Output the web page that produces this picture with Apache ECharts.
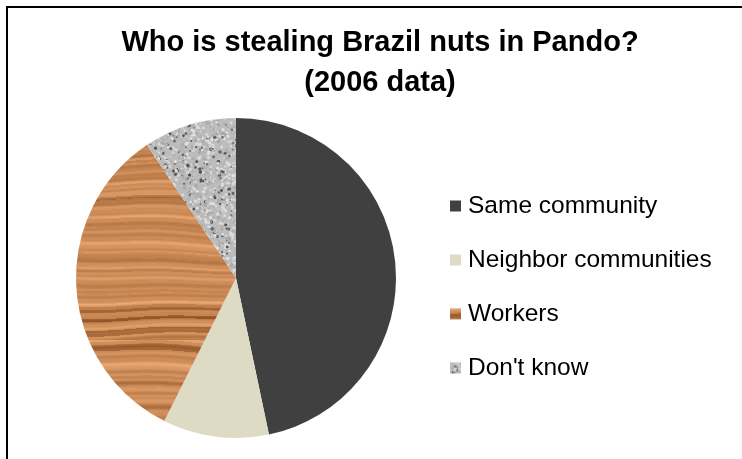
<!DOCTYPE html>
<html>
<head>
<meta charset="utf-8">
<script src="https://cdn.jsdelivr.net/npm/echarts@6/dist/echarts.min.js"></script>
<style>
html,body{margin:0;padding:0;background:#fff;}
#chart{width:742px;height:459px;}
</style>
</head>
<body>
<div id="chart"></div>
<script>
// ---- data ----
const titleLines = ["Who is stealing Brazil nuts in Pando?", "(2006 data)"];
const categories = ["Same community", "Neighbor communities", "Workers", "Don't know"];
const shares = [46.7, 10.7, 33.2, 9.4];

// deterministic hash for textures (style only)
function hash(n){ const s = Math.sin(n * 127.1 + 311.7) * 43758.5453; return s - Math.floor(s); }

function woodTexture(){
  const c = document.createElement('canvas');
  c.width = 320; c.height = 340;
  const ctx = c.getContext('2d');
  for (let y = 0; y < c.height; y++) {
    for (let x = 0; x < c.width; x += 4) {
      const wave = 2.5 * Math.sin(x * 0.015 + y * 0.03) + 1.5 * Math.sin(x * 0.041 + 1.3);
      const yy = y + wave;
      let t = 0.62 + 0.14 * Math.sin(yy * 0.55) + 0.1 * Math.sin(yy * 0.23 + 1.7) + 0.06 * Math.sin(yy * 1.3 + 0.4);
      const row = Math.floor(yy / 3);
      t += 0.2 * (hash(row) - 0.5);
      if (hash(row * 3.7 + 11) > 0.88) t -= 0.35;
      t = Math.max(0, Math.min(1, t));
      const r = Math.round(145 + t * 92);
      const g = Math.round(85 + t * 85);
      const b = Math.round(40 + t * 75);
      ctx.fillStyle = 'rgb(' + r + ',' + g + ',' + b + ')';
      ctx.fillRect(x, y, 4, 1);
    }
  }
  return c;
}

function graniteTexture(){
  const c = document.createElement('canvas');
  c.width = 160; c.height = 160;
  const ctx = c.getContext('2d');
  ctx.fillStyle = '#bcbcbc';
  ctx.fillRect(0, 0, c.width, c.height);
  for (let i = 0; i < 3200; i++) {
    const x = hash(i * 1.31) * c.width;
    const y = hash(i * 2.77 + 5) * c.height;
    const v = hash(i * 4.13 + 9);
    let g;
    if (v < 0.15) g = Math.round(70 + v * 300);
    else if (v < 0.6) g = Math.round(160 + v * 40);
    else g = Math.round(195 + v * 30);
    ctx.fillStyle = 'rgb(' + g + ',' + g + ',' + g + ')';
    const s = 0.6 + hash(i * 7.9 + 3) * 1.2;
    ctx.beginPath();
    ctx.arc(x, y, s, 0, Math.PI * 2);
    ctx.fill();
  }
  return c;
}

const fills = [
  '#404040',
  '#dedbc5',
  { image: woodTexture(), repeat: 'repeat' },
  { image: graniteTexture(), repeat: 'repeat' }
];

const chart = echarts.init(document.getElementById('chart'), null, { renderer: 'canvas' });
chart.setOption({
  animation: false,
  backgroundColor: '#ffffff',
  title: {
    text: titleLines.join('\n'),
    left: 380,
    top: 23,
    padding: 0,
    textAlign: 'center',
    textStyle: {
      fontFamily: 'Liberation Sans',
      fontWeight: 'bold',
      fontSize: 29,
      lineHeight: 40,
      color: '#000'
    }
  },
  legend: {
    orient: 'vertical',
    left: 450,
    top: 193,
    padding: 0,
    itemWidth: 11,
    itemHeight: 11,
    itemGap: 28,
    icon: 'rect',
    data: categories,
    textStyle: {
      fontFamily: 'Liberation Sans',
      fontSize: 24.5,
      lineHeight: 26,
      color: '#000',
      padding: [0, 0, 0, 2]
    }
  },
  graphic: [
    { type: 'line', shape: { x1: 6, y1: 7, x2: 742, y2: 7 }, style: { stroke: '#000', lineWidth: 2 } },
    { type: 'line', shape: { x1: 7, y1: 6, x2: 7, y2: 459 }, style: { stroke: '#000', lineWidth: 2 } }
  ],
  series: [{
    type: 'pie',
    center: [236, 278],
    radius: [0, 160],
    startAngle: 90,
    clockwise: true,
    label: { show: false },
    labelLine: { show: false },
    emphasis: { disabled: true },
    itemStyle: { borderWidth: 0 },
    data: categories.map((name, i) => ({ name: name, value: shares[i], itemStyle: { color: fills[i] } }))
  }]
});
</script>
</body>
</html>
